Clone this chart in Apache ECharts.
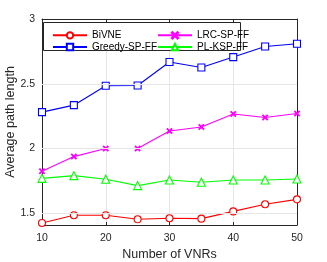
<!DOCTYPE html>
<html><head><meta charset="utf-8">
<script src="https://cdn.jsdelivr.net/npm/echarts@6/dist/echarts.min.js"></script>
<style>html,body{margin:0;padding:0;background:#fff}#c{width:327px;height:262px}</style>
</head><body><div id="c"></div>
<script>
const categories = [10, 15, 20, 25, 30, 35, 40, 45, 50];
const bivne = [1.426, 1.485, 1.485, 1.454, 1.462, 1.459, 1.515, 1.57, 1.608];
const greedy = [2.281, 2.335, 2.485, 2.487, 2.668, 2.626, 2.706, 2.788, 2.809];
const lrc = [1.825, 1.938, 2.0, 2.0, 2.135, 2.167, 2.267, 2.24, 2.27];
const plksp = [1.77, 1.791, 1.763, 1.714, 1.757, 1.74, 1.757, 1.757, 1.765];
const yTicks = [1.5, 2, 2.5, 3];

const F = 'Liberation Sans, Arial, sans-serif';
const AX = '#262626';
const crossPath = 'path://M0,1L1,0L5,4L9,0L10,1L6,5L10,9L9,10L5,6L1,10L0,9L4,5Z';
function pts(arr){ return categories.map((c,i)=>[c, arr[i]]); }
function mk(name, data, color, symbol, size, filled){
  return {name, type:'line', data:pts(data), symbol, symbolSize:size,
    showSymbol:true, lineStyle:{color, width:1.1},
    itemStyle:{color: filled ? color : '#fff', borderColor:color, borderWidth:1.1},
    emphasis:{disabled:true}, animation:false, z:3};
}
const chart = echarts.init(document.getElementById('c'));
const axisLine = {show:true, onZero:false, lineStyle:{color:AX, width:1}};
const tickStyle = {show:true, inside:true, length:3, lineStyle:{color:AX}};
chart.setOption({
  animation:false,
  grid:{left:42, right:30, top:19, bottom:37, containLabel:false, outerBoundsMode:'none'},
  xAxis:[
    {type:'value', min:10, max:50, interval:10, position:'bottom',
      name:'Number of VNRs', nameLocation:'middle', nameGap:23, nameMoveOverlap:false,
      nameTextStyle:{fontFamily:F, fontSize:12.5, color:AX},
      axisLine, axisTick:tickStyle,
      axisLabel:{fontFamily:F, fontSize:10.5, color:AX, margin:8},
      splitLine:{show:true, lineStyle:{color:'#e6e6e6', width:1}}},
    {type:'value', min:10, max:50, interval:10, position:'top',
      axisLine, axisTick:tickStyle, axisLabel:{show:false}, splitLine:{show:false}}
  ],
  yAxis:[
    {type:'value', min:1.41, max:3, position:'left',
      name:'Average path length', nameLocation:'middle', nameGap:25, nameMoveOverlap:false,
      nameTextStyle:{fontFamily:F, fontSize:12.5, color:AX},
      axisLine,
      axisLabel:{fontFamily:F, fontSize:10.5, color:AX, margin:7, customValues:yTicks},
      axisTick:Object.assign({customValues:yTicks}, tickStyle),
      splitLine:{show:false}},
    {type:'value', min:1.41, max:3, position:'right',
      axisLine,
      axisLabel:{show:false, customValues:yTicks},
      axisTick:Object.assign({customValues:yTicks}, tickStyle),
      splitLine:{show:false}}
  ],
  graphic:{elements:[{type:'rect', shape:{x:43.5, y:22.5, width:197, height:28},
    style:{fill:'#fff', stroke:AX, lineWidth:1}, z:5}]},
  legend:[
    {data:['BiVNE','Greedy-SP-FF'], orient:'vertical', left:47, top:24.5, itemWidth:34, itemHeight:8,
     itemGap:0, textStyle:{fontFamily:F, fontSize:10, color:'#000', lineHeight:11.7}, z:6, selectedMode:false},
    {data:['LRC-SP-FF','PL-KSP-FF'], orient:'vertical', left:152, top:24.5, itemWidth:34, itemHeight:8,
     itemGap:0, textStyle:{fontFamily:F, fontSize:10, color:'#000', lineHeight:11.7}, z:6, selectedMode:false}
  ],
  series:[
    Object.assign(mk('BiVNE', bivne, '#ff0000', 'circle', 7, false), {
      markLine:{silent:true, symbol:'none', label:{show:false}, animation:false,
        lineStyle:{color:'#e6e6e6', width:1, type:'solid'}, emphasis:{disabled:true},
        data: yTicks.filter(v=>v<3).map(v=>({yAxis:v}))}}),
    mk('Greedy-SP-FF', greedy, '#0000ff', 'rect', 7, false),
    mk('LRC-SP-FF', lrc, '#ff00ff', crossPath, 5, true),
    mk('PL-KSP-FF', plksp, '#00ff00', 'triangle', 8, false)
  ]
});
</script></body></html>
